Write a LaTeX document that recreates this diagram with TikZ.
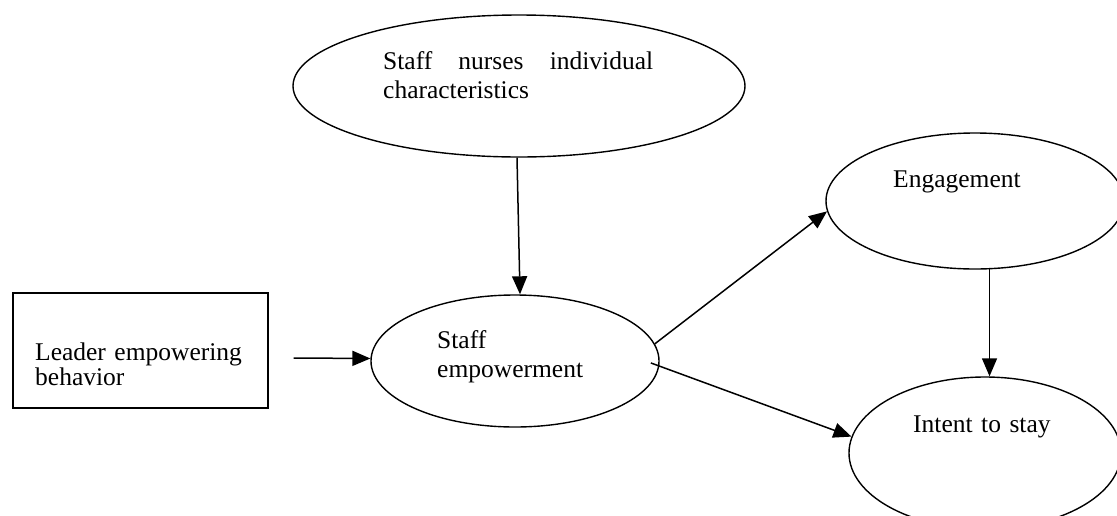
\documentclass[tikz,border=0pt]{standalone}
\usepackage{fontspec}
\setmainfont{Liberation Serif}
\usetikzlibrary{arrows.meta,shapes.geometric}
\begin{document}
\begin{tikzpicture}[x=1pt,y=-1pt,
  ell/.style={draw, ellipse, line width=1.4pt, inner sep=0pt},
  rect/.style={draw, rectangle, line width=1.4pt, inner sep=0pt},
  txt/.style={anchor=base west, inner sep=0pt, align=left},
  arr/.style={-{Triangle[length=18pt,width=15pt]}, line width=1.5pt}]
\useasboundingbox (0,0) rectangle (1117,515);
\clip (0,0) rectangle (1117,515);
\fill[white] (0,0) rectangle (1117,515);
% shapes
\node[ell, minimum width=452pt, minimum height=142pt] (top) at (519,86) {};
\node[ell, minimum width=288pt, minimum height=132pt] (emp) at (515,361) {};
\node[ell, minimum width=298pt, minimum height=136pt] (eng) at (975,201) {};
\node[ell, minimum width=272pt, minimum height=152pt] (int) at (985,453) {};
\node[rect, minimum width=255pt, minimum height=115pt] (box) at (140.5,350.5) {};
% texts
\node[txt, text width=280pt, font=\fontsize{25.5}{29}\selectfont] (topt) at (383,69)
  {\hbox to 270pt{Staff\hfill nurses\hfill individual}\\characteristics};
\node[txt, text width=220pt, font=\fontsize{25.5}{25}\selectfont] (boxt) at (35,360)
  {Leader empowering\\behavior};
\node[txt, text width=200pt, font=\fontsize{25.5}{29}\selectfont] (empt) at (437,348)
  {Staff\\empowerment};
\node[txt, text width=200pt, font=\fontsize{25.5}{29}\selectfont] (engt) at (893,187)
  {Engagement};
\node[txt, text width=200pt, font=\fontsize{25.5}{29}\selectfont] (intt) at (913,432)
  {Intent to stay};
% connectors
\draw[arr] ([xshift=-2pt]top.south) -- ([xshift=5pt]emp.north);
\draw[arr] ([xshift=25pt,yshift=-7.5pt]box.east) -- (emp.179);
\draw[arr] (emp.7.5) -- (eng.184);
\draw[arr, shorten <=-9pt] (emp.-2.5) -- (int.173);
\draw[arr] (eng.-78) -- (eng.-78 |- int.north);
\end{tikzpicture}
\end{document}
